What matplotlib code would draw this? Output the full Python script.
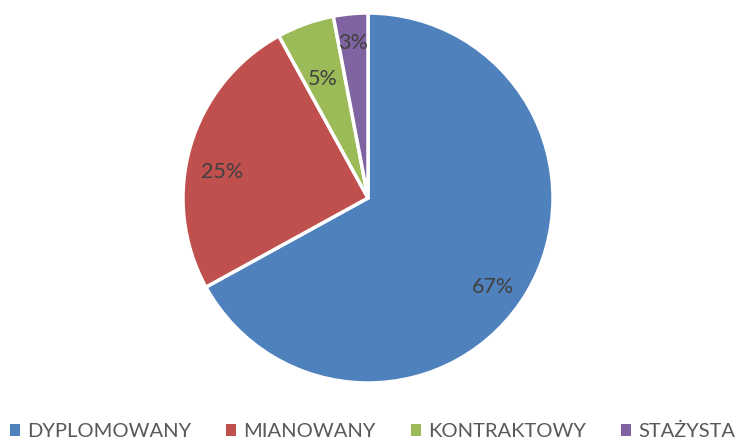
import matplotlib
matplotlib.use("Agg")
import matplotlib.pyplot as plt
import numpy as np

categories = ["DYPLOMOWANY", "MIANOWANY", "KONTRAKTOWY", "STAŻYSTA"]
values = [67, 25, 5, 3]
colors = ["#4F81BD", "#C0504D", "#9BBB59", "#8064A2"]

# label placement (style): radius fraction and angular shift in degrees
label_radius = [0.83, 0.80, 0.69, 0.84]
label_shift = [-5, 6, 1, 0]

plt.rcParams['font.family'] = ['Lato', 'DejaVu Sans']

fig = plt.figure(figsize=(7.38, 4.43), dpi=100)
ax = fig.add_axes([183/738, 60/443, 370/738, 370/443])

wedges, texts, autotexts = ax.pie(
    values, colors=colors, startangle=90, counterclock=False,
    autopct=lambda p: f"{p:.0f}%", pctdistance=0.8,
    wedgeprops=dict(edgecolor="white", linewidth=2.5),
    textprops=dict(color="#404040", fontsize=15.5))
for w, t, r, s in zip(wedges, autotexts, label_radius, label_shift):
    ang = np.deg2rad((w.theta1 + w.theta2) / 2 + s)
    t.set_position((r * np.cos(ang), r * np.sin(ang)))
ax.set_xlim(-1, 1)
ax.set_ylim(-1, 1)

leg = fig.legend(wedges, categories, loc="lower center", ncol=4,
                 bbox_to_anchor=(0.505, -0.035), frameon=False,
                 fontsize=14.5, handlelength=0.5, handleheight=0.5,
                 handletextpad=0.35, columnspacing=1.75,
                 labelcolor="#595959")
for h in leg.legend_handles:
    h.set_edgecolor("none")

fig.savefig("out.png", dpi=100)
